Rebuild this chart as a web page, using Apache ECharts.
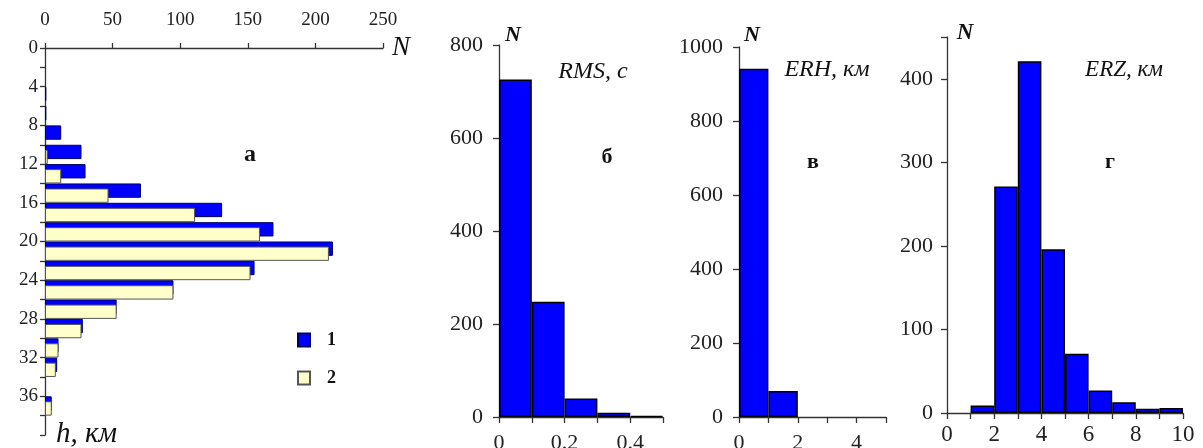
<!DOCTYPE html>
<html>
<head>
<meta charset="utf-8">
<script src="https://cdn.jsdelivr.net/npm/echarts@6/dist/echarts.min.js"></script>
<style>
  html, body { margin: 0; padding: 0; background: #fff; }
  #chart { width: 1203px; height: 448px; }
</style>
</head>
<body>
<div id="chart"></div>
<script>
// а: depth distribution, 2 km bins (0-2 ... 38-40)
var depthBins = ['0', '2', '4', '6', '8', '10', '12', '14', '16', '18',
                 '20', '22', '24', '26', '28', '30', '32', '34', '36', '38'];
var depthN1 = [0, 0, 1, 1, 12, 27, 30, 71, 131, 169, 213, 155, 95, 53, 28, 10, 9, 0, 5, 0];
var depthN2 = [0, 0, 0, 0, 0, 2, 12, 47, 111, 159, 210, 152, 95, 53, 27, 10, 8, 0, 5, 0];

// б: RMS, с
var rmsBins = ['0-0.1', '0.1-0.2', '0.2-0.3', '0.3-0.4', '0.4-0.5'];
var rmsN = [726, 248, 40, 9, 2];

// в: ERH, км
var erhBins = ['0-1', '1-2', '2-3', '3-4', '4-5'];
var erhN = [941, 70, 0, 0, 0];

// г: ERZ, км
var erzBins = ['0-1', '1-2', '2-3', '3-4', '4-5', '5-6', '6-7', '7-8', '8-9', '9-10'];
var erzN = [0, 9, 271, 421, 196, 71, 27, 13, 5, 6];

var FONT = "'Liberation Serif', 'Times New Roman', serif";
var AXIS = '#333';
var BLUE = '#0000ff';
var YELLOW = '#ffffcc';

// empty bins are not drawn at all (no zero-height outline)
function bars(arr) {
  return arr.map(function (v) { return v === 0 ? '-' : v; });
}

var chart = echarts.init(document.getElementById('chart'));

function valAxis(extra) {
  return Object.assign({
    type: 'value',
    splitLine: { show: false },
    axisLine: { show: true, onZero: false, lineStyle: { color: AXIS, width: 1.3 } },
    axisTick: { show: true, length: 6, lineStyle: { color: AXIS, width: 1.3 } },
    axisLabel: { color: '#222', fontFamily: FONT, fontSize: 22 }
  }, extra);
}

function hiddenCat(grid, data, extra) {
  return Object.assign({
    type: 'category', gridIndex: grid, data: data, show: false,
    boundaryGap: true
  }, extra);
}

function label(text, x, y, size, style, weight) {
  return {
    type: 'text', x: x, y: y,
    style: {
      text: text, fill: '#111', font: (style || 'normal') + ' ' + (weight || 'normal') + ' ' + size + 'px ' + FONT,
      align: 'center', verticalAlign: 'middle'
    }
  };
}

var histStyle = { color: BLUE, borderColor: '#000', borderWidth: 1.5 };

chart.setOption({
  animation: false,
  grid: [
    { left: 45, top: 48, width: 338, height: 387, containLabel: false, outerBoundsMode: 'none' },
    { left: 499, top: 45, width: 164, height: 372, containLabel: false, outerBoundsMode: 'none' },
    { left: 739, top: 47, width: 147, height: 370, containLabel: false, outerBoundsMode: 'none' },
    { left: 947, top: 37, width: 236, height: 376, containLabel: false, outerBoundsMode: 'none' }
  ],
  legend: {
    data: ['1', '2'], orient: 'vertical', left: 292, top: 326,
    itemWidth: 12, itemHeight: 13, itemGap: 20, icon: 'rect',
    textStyle: { fontFamily: FONT, fontWeight: 'bold', fontSize: 18, color: '#111', padding: [0, 0, 0, 12] }
  },
  xAxis: [
    valAxis({ gridIndex: 0, position: 'top', min: 0, max: 250, interval: 50,
      axisLabel: { color: '#222', fontFamily: FONT, fontSize: 19, margin: 18 },
      axisTick: { show: true, length: 5, lineStyle: { color: AXIS, width: 1.3 } } }),
    hiddenCat(1, rmsBins),
    valAxis({ gridIndex: 1, position: 'bottom', min: 0, max: 0.5, interval: 0.1,
      axisLabel: { color: '#222', fontFamily: FONT, fontSize: 22, margin: 15,
        formatter: function (v) { var k = Math.round(v * 10); return (k % 2 === 0 && k < 5) ? (k === 0 ? '0' : (k / 10).toFixed(1)) : ''; } } }),
    hiddenCat(2, erhBins),
    valAxis({ gridIndex: 2, position: 'bottom', min: 0, max: 5, interval: 1,
      axisLabel: { color: '#222', fontFamily: FONT, fontSize: 22, margin: 15,
        formatter: function (v) { return (v % 2 === 0 && v < 5) ? String(v) : ''; } } }),
    hiddenCat(3, erzBins),
    valAxis({ gridIndex: 3, position: 'bottom', min: 0, max: 10, interval: 1,
      axisLabel: { color: '#222', fontFamily: FONT, fontSize: 23, margin: 10,
        formatter: function (v) { return v % 2 === 0 ? String(v) : ''; } } })
  ],
  yAxis: [
    hiddenCat(0, depthBins, { inverse: true }),
    valAxis({ gridIndex: 0, position: 'left', min: 0, max: 40, interval: 2, inverse: true,
      axisTick: { show: true, length: 5, lineStyle: { color: AXIS, width: 1.3 } },
      axisLabel: { color: '#222', fontFamily: FONT, fontSize: 19, margin: 7,
        formatter: function (v) { return (v % 4 === 0 && v < 40) ? String(v) : ''; } } }),
    valAxis({ gridIndex: 1, min: 0, max: 800, interval: 200,
      axisLabel: { color: '#222', fontFamily: FONT, fontSize: 22, margin: 16 } }),
    valAxis({ gridIndex: 2, min: 0, max: 1000, interval: 200,
      axisLabel: { color: '#222', fontFamily: FONT, fontSize: 22, margin: 16,
        formatter: function (v) { return String(v); } } }),
    valAxis({ gridIndex: 3, min: 0, max: 450, interval: 100,
      axisLabel: { color: '#222', fontFamily: FONT, fontSize: 22, margin: 14,
        formatter: function (v) { return v <= 400 ? String(v) : ''; } } })
  ],
  series: [
    {
      name: '1', type: 'bar', xAxisIndex: 0, yAxisIndex: 0, data: bars(depthN1),
      barCategoryGap: '0%', barGap: '-65%',
      itemStyle: { color: BLUE, borderColor: '#000060', borderWidth: 1 }
    },
    {
      name: '2', type: 'bar', xAxisIndex: 0, yAxisIndex: 0, data: bars(depthN2),
      barCategoryGap: '0%', barGap: '-65%',
      itemStyle: { color: YELLOW, borderColor: '#555', borderWidth: 1 }
    },
    { type: 'bar', xAxisIndex: 1, yAxisIndex: 2, data: bars(rmsN), barCategoryGap: '0%', itemStyle: histStyle },
    { type: 'bar', xAxisIndex: 3, yAxisIndex: 3, data: bars(erhN), barCategoryGap: '0%', itemStyle: histStyle },
    { type: 'bar', xAxisIndex: 5, yAxisIndex: 4, data: bars(erzN), barCategoryGap: '0%', itemStyle: histStyle }
  ],
  graphic: [
    label('N', 401, 48, 27, 'italic'),
    label('а', 250, 155, 24, 'normal', 'bold'),
    { type: 'text', x: 56, y: 434,
      style: { text: 'h, км', fill: '#111', font: 'italic normal 29px ' + FONT, align: 'left', verticalAlign: 'middle' } },
    label('N', 513, 35, 22, 'italic', 'bold'),
    label('RMS, с', 593, 72, 24, 'italic'),
    label('б', 607, 157, 22, 'normal', 'bold'),
    label('N', 752, 35, 22, 'italic', 'bold'),
    label('ERH, км', 827, 70, 24, 'italic'),
    label('в', 813, 162, 22, 'normal', 'bold'),
    label('N', 965, 33, 23, 'italic', 'bold'),
    label('ERZ, км', 1124, 70, 23, 'italic'),
    label('г', 1110, 162, 22, 'normal', 'bold')
  ]
});
</script>
</body>
</html>
